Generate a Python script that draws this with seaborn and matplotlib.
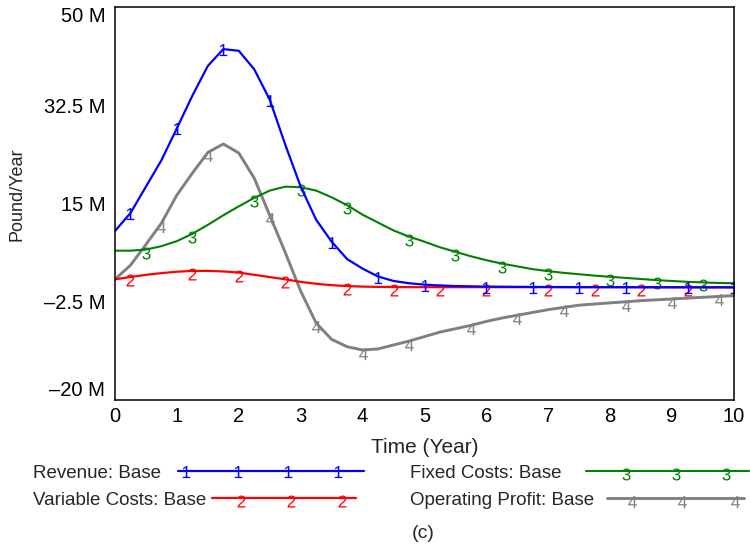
import numpy as np
import pandas as pd
import matplotlib
matplotlib.use("Agg")
import matplotlib.pyplot as plt
import seaborn as sns
from matplotlib.lines import Line2D
from matplotlib.legend_handler import HandlerLine2D
from matplotlib.textpath import TextPath
from matplotlib.font_manager import FontProperties
from matplotlib.transforms import Affine2D

# ---------------- data ----------------
time_years = np.linspace(0, 10, 41)   # simulation save period 0.25 year

revenue = [10.1, 13.3, 18.0, 22.7, 28.4, 34.2, 39.5, 42.5, 42.2, 38.9,
           33.5, 25.5, 18.0, 12.1, 8.2, 5.1, 3.4, 2.0, 1.2, 0.8,
           0.55, 0.4, 0.3, 0.25, 0.2, 0.18, 0.16, 0.14, 0.13, 0.12,
           0.11, 0.1, 0.1, 0.09, 0.08, 0.08, 0.07, 0.07, 0.06, 0.06, 0.05]

variable_costs = [1.5, 1.9, 2.3, 2.6, 2.85, 3.0, 3.0, 2.9, 2.7, 2.3,
                  1.9, 1.5, 1.05, 0.7, 0.45, 0.3, 0.2, 0.15, 0.12, 0.1,
                  0.1, 0.1, 0.1, 0.1, 0.1, 0.1, 0.1, 0.1, 0.1, 0.1,
                  0.1, 0.1, 0.1, 0.1, 0.1, 0.1, 0.1, 0.1, 0.1, 0.1, 0.1]

fixed_costs = [6.6, 6.6, 6.8, 7.4, 8.3, 9.6, 11.2, 12.9, 14.5, 16.0,
               17.3, 18.0, 17.9, 17.3, 16.1, 14.7, 13.0, 11.6, 10.2, 9.1,
               8.2, 7.2, 6.4, 5.6, 4.9, 4.3, 3.8, 3.3, 2.95, 2.65,
               2.4, 2.15, 1.95, 1.75, 1.55, 1.35, 1.2, 1.05, 0.95, 0.85, 0.8]

operating_profit = [1.5, 4.0, 7.7, 11.5, 16.5, 20.4, 24.1, 25.6, 24.0, 19.5,
                    12.9, 6.3, -0.6, -6.3, -9.2, -10.5, -11.1, -10.9, -10.2, -9.5,
                    -8.7, -7.9, -7.3, -6.7, -6.0, -5.4, -4.9, -4.4, -3.9, -3.5,
                    -3.1, -2.9, -2.7, -2.5, -2.3, -2.15, -2.0, -1.85, -1.7, -1.55, -1.4]

series_names = ["Revenue: Base", "Variable Costs: Base",
                "Fixed Costs: Base", "Operating Profit: Base"]
series_numbers = ["1", "2", "3", "4"]

x_ticks = [0, 1, 2, 3, 4, 5, 6, 7, 8, 9, 10]
y_ticks = [-20, -2.5, 15, 32.5, 50]
y_tick_labels = ["\u201320 M", "\u20132.5 M", "15 M", "32.5 M", "50 M"]

x_label = "Time (Year)"
y_label = "Pound/Year"
caption = "(c)"

# ---------------- styling ----------------
colors = ["#0000ff", "#ff0000", "#008000", "#808080"]
widths = [1.6, 1.6, 1.5, 2.1]
# how far (fraction of glyph height) the digit top sits above the line
digit_top = [0.45, 0.25, 0.25, 0.2]
# indices of saved points that carry the series number
mark_idx = [
    [1, 4, 7, 10, 14, 17, 20, 24, 27, 30, 33, 37, 40],
    [1, 5, 8, 11, 15, 18, 21, 24, 28, 31, 34, 37],
    [2, 5, 9, 12, 15, 19, 22, 25, 28, 32, 35, 38],
    [3, 6, 10, 13, 16, 19, 23, 26, 29, 33, 36, 39],
]
# legend layout: (x, y) anchor in figure fraction, handle length, text pad, marker fractions
legend_layout = [
    ((0.044, 0.1353), 9.92, 0.91, [0.043, 0.323, 0.591, 0.860]),
    ((0.044, 0.0859), 7.68, 0.32, [0.20, 0.55, 0.90]),
    ((0.5467, 0.1353), 8.69, 1.33, [0.245, 0.552, 0.859]),
    ((0.5467, 0.0859), 7.31, 0.69, [0.18, 0.55, 0.93]),
]
GLYPH_PX = 12.0   # digit height in pixels


def digit_marker(d, top):
    tp = TextPath((0, 0), d, size=10,
                  prop=FontProperties(family="Liberation Sans"))
    ext = tp.get_extents()
    h = ext.height
    tr = Affine2D().translate(-(ext.x0 + ext.x1) / 2, -ext.y1 + top * h)
    path = tr.transform_path(tp)
    # matplotlib scales a path marker so its largest |coordinate| = size/2
    scale_max = max(top, 1 - top, (ext.width / 2) / h)
    size_pt = GLYPH_PX * 72 / 100 * 2 * scale_max
    return path, size_pt


sns.set_style("white")
plt.rcParams["font.family"] = ["Liberation Sans", "DejaVu Sans"]

values = [revenue, variable_costs, fixed_costs, operating_profit]
df = pd.DataFrame({
    "Time": np.tile(time_years, len(series_names)),
    "Value": np.concatenate([np.asarray(v, float) for v in values]),
    "Series": np.repeat(series_names, len(time_years)),
})

markers = [digit_marker(series_numbers[i], digit_top[i]) for i in range(4)]

fig = plt.figure(figsize=(7.5, 5.47), dpi=100)
ax = fig.add_axes([0.1533, 0.2687, 0.9787 - 0.1533, 0.9872 - 0.2687])

# draw last series first so that Revenue ends on top
for i in reversed(range(len(series_names))):
    sub = df[df["Series"] == series_names[i]]
    mpath, msize = markers[i]
    sns.lineplot(data=sub, x="Time", y="Value", ax=ax,
                 color=colors[i], linewidth=widths[i],
                 marker=mpath, markersize=msize,
                 markeredgewidth=0, markevery=mark_idx[i],
                 estimator=None, sort=False, legend=False)

ax.set_xlim(0, 10)
ax.set_ylim(-20, 50)
ax.set_xticks(x_ticks)
ax.set_yticks(y_ticks, labels=y_tick_labels)
ax.tick_params(axis="both", length=0, labelsize=14.5, colors="black")
ax.tick_params(axis="x", pad=5)
ax.tick_params(axis="y", pad=7)
ylabs = ax.get_yticklabels()
ylabs[-1].set_verticalalignment("top")
ylabs[0].set_verticalalignment("bottom")

for sp in ax.spines.values():
    sp.set_visible(True)
    sp.set_color("black")
    sp.set_linewidth(1.1)

ax.set_xlabel(x_label, fontsize=15, va="center")
ax.xaxis.set_label_coords(0.5, -0.1196)
ax.set_ylabel(y_label, fontsize=13, va="center", ha="center")
ax.yaxis.set_label_coords(-0.158, 0.524)


class SpacedNumberHandler(HandlerLine2D):
    def __init__(self, fracs, **kw):
        super().__init__(**kw)
        self.fracs = fracs

    def create_artists(self, legend, orig_handle, xdescent, ydescent,
                       width, height, fontsize, trans):
        x0 = -xdescent
        xs = [x0] + [x0 + f * width for f in self.fracs] + [x0 + width]
        ys = np.full(len(xs), (height - ydescent) / 2)
        line = Line2D(xs, ys)
        self.update_prop(line, orig_handle, legend)
        line.set_markevery(list(range(1, len(xs) - 1)))
        line.set_transform(trans)
        return [line]


for i, name in enumerate(series_names):
    anchor, hlen, hpad, fracs = legend_layout[i]
    mpath, msize = markers[i]
    h = Line2D([], [], color=colors[i], linewidth=widths[i],
               marker=mpath, markersize=msize, markeredgewidth=0)
    fig.legend(handles=[h], labels=[name], loc="center left",
               bbox_to_anchor=anchor, frameon=False, markerfirst=False,
               handlelength=hlen, handletextpad=hpad, borderpad=0,
               borderaxespad=0, fontsize=13.5,
               handler_map={h: SpacedNumberHandler(fracs)})

fig.text(423 / 750, 1 - 533 / 547, caption, ha="center", va="center",
         fontsize=14)

fig.savefig("out.png", dpi=100)
